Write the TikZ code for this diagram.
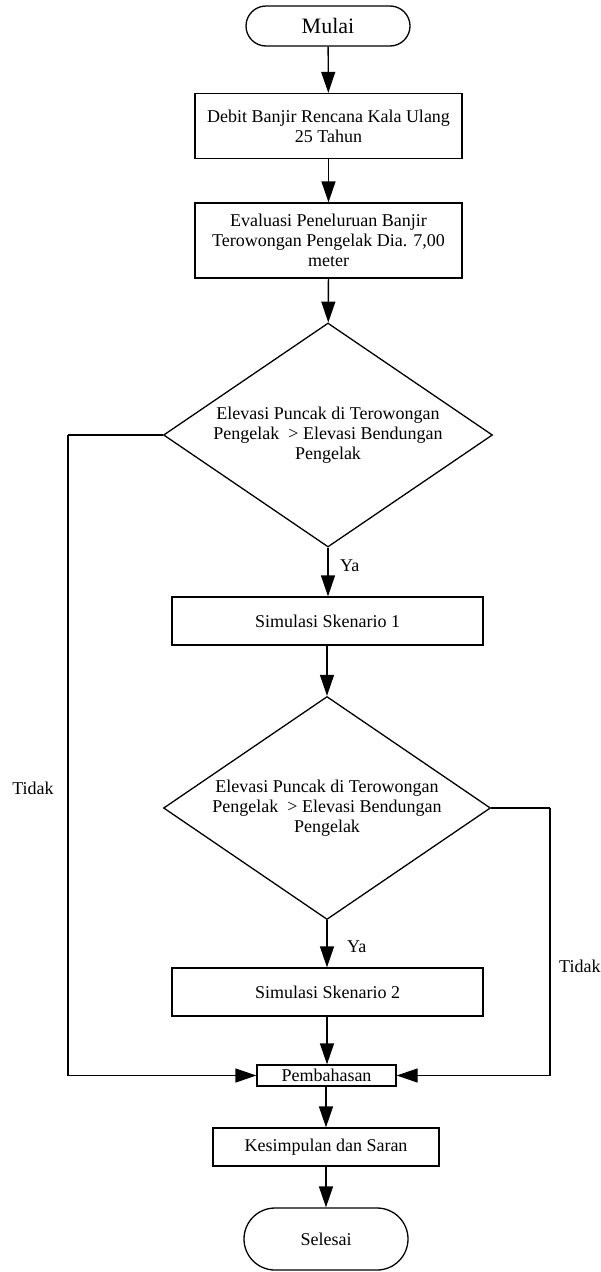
\documentclass[tikz,border=0pt]{standalone}
\usepackage{fontspec}
\setmainfont{Liberation Serif}
\usetikzlibrary{shapes.geometric,shapes.misc,arrows.meta}
\begin{document}
\begin{tikzpicture}[x=1pt,y=-1pt,
  every node/.style={font=\fontsize{18}{20}\selectfont},
  base/.style={draw,line width=1.3pt,align=center,inner sep=0pt},
  procbox/.style={base,rectangle},
  termbox/.style={base,rounded rectangle},
  decbox/.style={base,diamond,aspect=1.47,minimum width=329pt,minimum height=224pt},
  conn/.style={line width=1.3pt,-{Triangle[width=14pt,length=21pt]}},
  plain/.style={line width=1.3pt},
  lbl/.style={inner sep=0pt}]
\useasboundingbox (0,0) rectangle (601,1272);
\node[termbox,minimum width=164pt,minimum height=40pt,font=\fontsize{22}{24}\selectfont] (mulai) at (328,26) {Mulai};
\node[procbox,minimum width=267pt,minimum height=65pt] (debit) at (328.5,126) {Debit Banjir Rencana Kala Ulang\\25 Tahun};
\node[procbox,minimum width=267pt,minimum height=75pt] (eval) at (328.5,240.5) {Evaluasi Peneluruan Banjir\\Terowongan Pengelak Dia. 7,00\\meter};
\node[decbox] (d1) at (328,435) {Elevasi Puncak di Terowongan\\Pengelak \ > Elevasi Bendungan\\Pengelak};
\node[procbox,minimum width=311pt,minimum height=48pt] (sim1) at (327.5,621) {Simulasi Skenario 1};
\node[decbox,minimum width=327pt,minimum height=223pt] (d2) at (327,808) {Elevasi Puncak di Terowongan\\Pengelak \ > Elevasi Bendungan\\Pengelak};
\node[procbox,minimum width=311pt,minimum height=48pt] (sim2) at (327.5,992) {Simulasi Skenario 2};
\node[procbox,minimum width=139pt,minimum height=21pt] (bahas) at (326.5,1075.5) {Pembahasan};
\node[procbox,minimum width=226pt,minimum height=38pt] (simpul) at (326,1147) {Kesimpulan dan Saran};
\node[termbox,minimum width=164pt,minimum height=62pt] (selesai) at (326,1239) {Selesai};
\coordinate (l1) at (68,435);
\coordinate (l2) at (68,1075.5);
\coordinate (r1) at (550,808);
\coordinate (r2) at (550,1075.5);
\draw[conn] (mulai) -- (debit);
\draw[conn] (debit) -- (eval.north -| debit);
\draw[conn] (eval) -- (d1);
\draw[conn] (d1) -- (sim1.north -| d1);
\draw[conn] (sim1.south -| d2) -- (d2);
\draw[conn] (d2) -- (sim2.north -| d2);
\draw[conn] (sim2.south -| d2) -- (bahas.north -| d2);
\draw[conn] (bahas.south -| simpul) -- (simpul);
\draw[conn] (simpul) -- (selesai);
\draw[plain] (d1.west) -- (l1);
\draw[conn] (l1) -- (l2) -- (bahas.west);
\draw[plain] (d2.east) -- (r1);
\draw[conn] (r1) -- (r2) -- (bahas.east);
\node[lbl,anchor=west] (ya1) at (340,566) {Ya};
\node[lbl,anchor=west] (ya2) at (347,947) {Ya};
\node[lbl] (t1) at (33,788) {Tidak};
\node[lbl,anchor=west] (t2) at (559,966) {Tidak};
\end{tikzpicture}
\end{document}
